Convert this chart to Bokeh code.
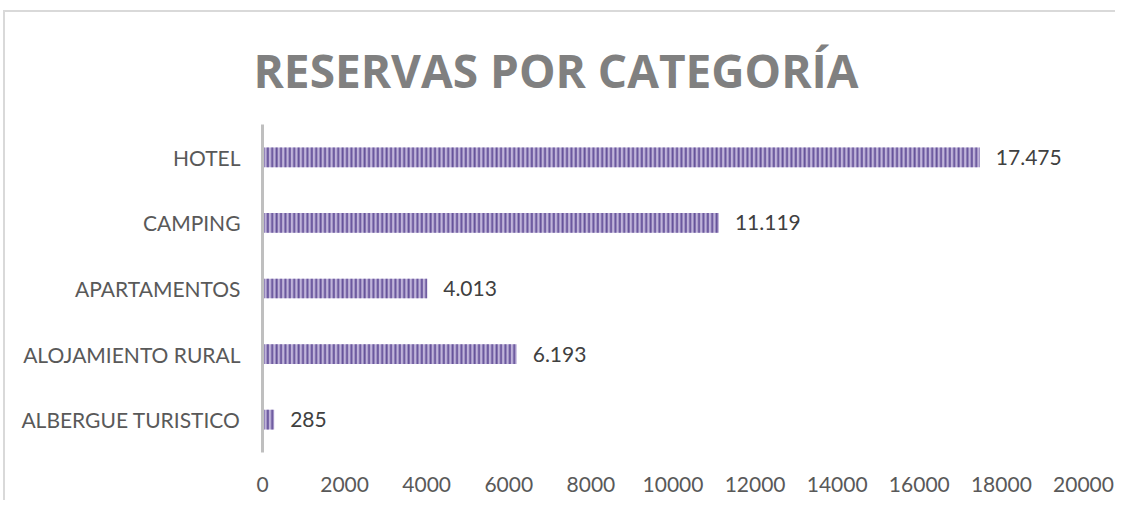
from bokeh.plotting import figure
from bokeh.models import ColumnDataSource, FactorRange, Range1d, FixedTicker, LabelSet
from bokeh.core.properties import value
from bokeh.embed import file_html
from bokeh.resources import INLINE

categories = ["ALBERGUE TURISTICO", "ALOJAMIENTO RURAL", "APARTAMENTOS", "CAMPING", "HOTEL"]
values = [285, 6193, 4013, 11119, 17475]
x_ticks = [0, 2000, 4000, 6000, 8000, 10000, 12000, 14000, 16000, 18000, 20000]
title_text = "RESERVAS POR CATEGORÍA"

labels = [f"{v:,}".replace(",", ".") for v in values]
source = ColumnDataSource(dict(cat=categories, val=values, lab=labels))

FONT = "Lato"

p = figure(width=1112, height=490, output_backend="svg", toolbar_location=None,
           y_range=FactorRange(*categories, range_padding=0),
           x_range=Range1d(0, 20000),
           min_border_left=257, min_border_right=34, min_border_top=110, min_border_bottom=50)

p.hbar(y="cat", right="val", left=0, height=0.3, source=source,
       fill_color="#c0b4da", line_color=None,
       hatch_pattern="|", hatch_color="#66539a", hatch_scale=4.4, hatch_weight=2.0)

p.add_layout(LabelSet(x="val", y="cat", text="lab", source=source, x_offset=16,
                      text_align="left", text_baseline="middle",
                      text_font=value(FONT), text_font_size=value("21px"),
                      text_color=value("#404040")))

p.title.text = title_text
p.title.align = "left"
p.title.offset = -9
p.title.text_font = "Open Sans"
p.title.text_font_size = "46px"
p.title.text_font_style = "bold"
p.title.text_color = "#808080"
p.title.text_line_height = 0.75
p.title.standoff = 48

p.outline_line_color = None
p.background_fill_color = "white"
p.border_fill_color = "white"
p.grid.grid_line_color = None

xa = p.xaxis[0]
xa.ticker = FixedTicker(ticks=x_ticks)
xa.axis_line_color = None
xa.major_tick_line_color = None
xa.minor_tick_line_color = None
xa.major_tick_out = 0
xa.major_label_standoff = 24
xa.major_label_text_font = FONT
xa.major_label_text_font_size = "21px"
xa.major_label_text_color = "#595959"

ya = p.yaxis[0]
ya.axis_line_color = "#bfbfbf"
ya.axis_line_width = 3
ya.major_tick_line_color = None
ya.minor_tick_line_color = None
ya.major_tick_out = 0
ya.major_label_standoff = 22
ya.major_label_text_font = FONT
ya.major_label_text_font_size = "21px"
ya.major_label_text_color = "#595959"

p.styles = {"margin-top": "10px", "margin-left": "3px",
            "border-top": "2px solid #d9d9d9", "border-left": "2px solid #d9d9d9"}

open("out.html", "w").write(file_html(p, INLINE))
